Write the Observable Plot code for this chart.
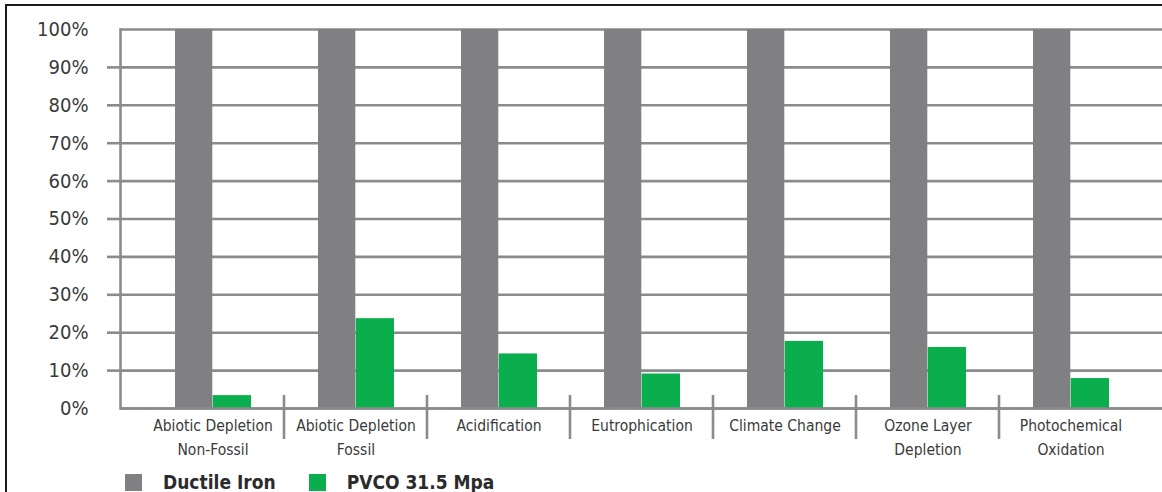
<!DOCTYPE html>
<html>
<head>
<meta charset="utf-8">
<script src="https://cdn.jsdelivr.net/npm/d3@7"></script>
<script src="https://cdn.jsdelivr.net/npm/@observablehq/plot@0.6"></script>
<style>
  html, body { margin: 0; padding: 0; background: #fff; }
  #wrap { position: relative; width: 1162px; height: 492px; overflow: hidden; background: #fff; }
  #border { position: absolute; left: 5px; top: 4px; width: 1300px; height: 700px; border: 2px solid #1a1a1a; box-sizing: border-box; pointer-events: none; }
  #chart { position: absolute; left: 0; top: 0; }
  #legend { position: absolute; left: 125px; top: 471px; display: flex; align-items: flex-start;
    font-family: "DejaVu Sans Condensed", "Liberation Sans", sans-serif;
    font-weight: bold; font-size: 19px; color: #2b2b2b; line-height: 1; }
  .item { display: flex; align-items: flex-start; }
  .sw { width: 17px; height: 17px; display: inline-block; margin-top: 3px; }
  .lab { margin-left: 21px; margin-right: 33px; margin-top: 2px; }
</style>
</head>
<body>
<div id="wrap">
  <div id="chart"></div>
  <div id="border"></div>
  <div id="legend"></div>
</div>
<script>
const categories = ["Abiotic Depletion\nNon-Fossil", "Abiotic Depletion\nFossil", "Acidification", "Eutrophication", "Climate Change", "Ozone Layer\nDepletion", "Photochemical\nOxidation"];
const seriesNames = ["Ductile Iron", "PVCO 31.5 Mpa"];
const ductileIron = [100, 100, 100, 100, 100, 100, 100];
const pvco = [3.4, 23.7, 14.4, 9.1, 17.7, 16.1, 7.9];
const yTicks = [0, 10, 20, 30, 40, 50, 60, 70, 80, 90, 100];

const GRAY = "#808083";
const GREEN = "#0bae4c";
const GRID = "#8a8b8d";
const FONT = '"DejaVu Sans Condensed", "Liberation Sans", sans-serif';

const ironRows = categories.map((c, i) => ({category: c, series: seriesNames[0], value: ductileIron[i]}));
const pvcoRows = categories.map((c, i) => ({category: c, series: seriesNames[1], value: pvco[i]}));

const chart = Plot.plot({
  width: 1162,
  height: 470,
  marginLeft: 120,
  marginRight: 0,
  marginTop: 29,
  marginBottom: 62,
  style: {fontFamily: FONT, fontSize: "19px", color: "#3a3a3a", background: "transparent"},
  x: {domain: categories, paddingInner: 0, paddingOuter: 0.133, align: 0.5, axis: null},
  y: {domain: [0, 100], axis: null},
  marks: [
    Plot.gridY(yTicks, {stroke: GRID, strokeOpacity: 1, strokeWidth: 2.6}),
    Plot.axisY(yTicks, {tickSize: 0, tickPadding: 32, tickFormat: d => d + "%", fontSize: 20, fill: "#3a3a3a", label: null}),
    Plot.axisY(yTicks.slice(1, -1), {tickSize: 13, text: null, stroke: GRID, strokeWidth: 2.6, strokeOpacity: 1, label: null}),
    Plot.barY(ironRows, {x: "category", y: "value", fill: GRAY, insetLeft: 34, insetRight: 71.7}),
    Plot.barY(pvcoRows, {x: "category", y: "value", fill: GREEN, insetLeft: 71.7, insetRight: 33}),
    Plot.ruleY([0], {stroke: GRID, strokeWidth: 2.6}),
    Plot.frame({anchor: "left", stroke: GRID, strokeWidth: 2.6}),
    Plot.text(categories, {x: d => d, text: d => d, frameAnchor: "bottom", lineAnchor: "top", dy: 5, lineHeight: 1.55, fontSize: 15.5, fill: "#3a3a3a"})
  ]
});

// category boundary ticks below the axis, positioned from the x scale
const xs = chart.scale("x");
const ys = chart.scale("y");
const y0 = ys.apply(0);
d3.select(chart).append("g")
  .attr("stroke", GRID).attr("stroke-width", 2.6)
  .selectAll("line")
  .data(categories.slice(1))
  .join("line")
  .attr("x1", d => xs.apply(d))
  .attr("x2", d => xs.apply(d))
  .attr("y1", y0 - 13)
  .attr("y2", y0 + 31);

document.getElementById("chart").appendChild(chart);

const legend = d3.select("#legend");
const colors = [GRAY, GREEN];
seriesNames.forEach((name, i) => {
  const item = legend.append("div").attr("class", "item");
  item.append("span").attr("class", "sw").style("background", colors[i]);
  item.append("span").attr("class", "lab").text(name);
});
</script>
</body>
</html>
